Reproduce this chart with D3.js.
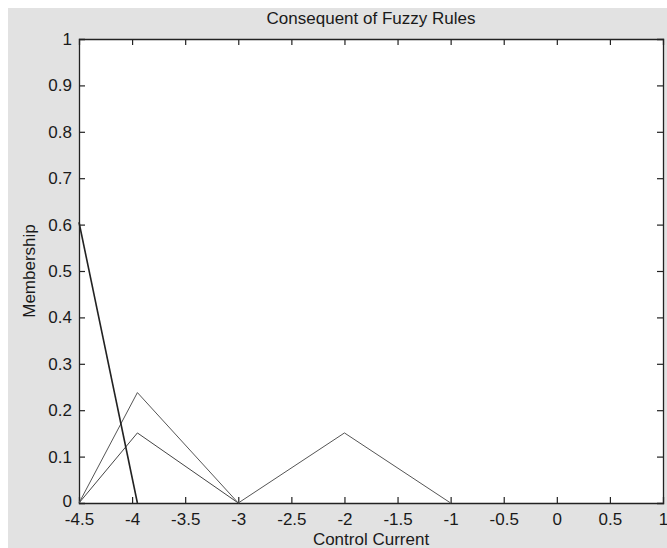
<!DOCTYPE html>
<html><head><meta charset="utf-8">
<script src="https://cdn.jsdelivr.net/npm/d3@7/dist/d3.min.js"></script>
<style>
html,body{margin:0;padding:0;background:#fff;}
svg{display:block;}
text{font-family:"Liberation Sans",Arial,Helvetica,sans-serif;fill:#1a1a1a;}
</style></head>
<body>
<svg id="chart" width="667" height="548"></svg>
<script>
// Data
const title = "Consequent of Fuzzy Rules";
const xLabel = "Control Current";
const yLabel = "Membership";
const xTicks = [-4.5, -4, -3.5, -3, -2.5, -2, -1.5, -1, -0.5, 0, 0.5, 1];
const xTickLabels = ["-4.5", "-4", "-3.5", "-3", "-2.5", "-2", "-1.5", "-1", "-0.5", "0", "0.5", "1"];
const yTicks = [0, 0.1, 0.2, 0.3, 0.4, 0.5, 0.6, 0.7, 0.8, 0.9, 1];
const yTickLabels = ["0", "0.1", "0.2", "0.3", "0.4", "0.5", "0.6", "0.7", "0.8", "0.9", "1"];
const steepX = [-4.5, -3.95];
const steepY = [0.605, 0];
const tri1X = [-4.5, -3.95, -3];
const tri1Y = [0, 0.238, 0];
const tri2X = [-4.5, -3.95, -3];
const tri2Y = [0, 0.151, 0];
const tri3X = [-3, -2, -1];
const tri3Y = [0, 0.151, 0];

const svg = d3.select("#chart");
svg.append("rect").attr("x",8).attr("y",8).attr("width",659).attr("height",540).attr("fill","#e2e2e2");

const L=79, R=663, T=39, B=503;
const x = d3.scaleLinear().domain([-4.5,1]).range([L,R]);
const y = d3.scaleLinear().domain([0,1]).range([B,T]);

svg.append("rect").attr("x",L).attr("y",T).attr("width",R-L).attr("height",B-T).attr("fill","#fff");

const fs = 17;
const gB = svg.append("g").attr("transform",`translate(0,${B})`)
  .call(d3.axisBottom(x).tickValues(xTicks).tickSize(-6).tickPadding(10)
    .tickFormat((d,i)=>xTickLabels[i]));
const gT = svg.append("g").attr("transform",`translate(0,${T})`)
  .call(d3.axisTop(x).tickValues(xTicks).tickSize(-6).tickFormat(""));
const gL = svg.append("g").attr("transform",`translate(${L},0)`)
  .call(d3.axisLeft(y).tickValues(yTicks).tickSize(-6).tickPadding(7)
    .tickFormat((d,i)=>yTickLabels[i]));
const gR = svg.append("g").attr("transform",`translate(${R},0)`)
  .call(d3.axisRight(y).tickValues(yTicks).tickSize(-6).tickFormat(""));
[gB,gT,gL,gR].forEach(g=>{
  g.select(".domain").attr("stroke","#222").attr("stroke-width",1.3);
  g.selectAll(".tick line").attr("stroke","#222").attr("stroke-width",1.2);
  g.selectAll("text").attr("font-size",fs).attr("fill","#1a1a1a")
    .style("font-family",'"Liberation Sans",Arial,sans-serif');
});
[gB,gT].forEach(g=>g.selectAll(".tick line").filter(d=>d===-4.5||d===1).remove());
[gL,gR].forEach(g=>g.selectAll(".tick line").filter(d=>d===0||d===1).remove());
// nudge the "0" y label slightly up, as in the reference
gL.selectAll(".tick text").filter(d=>d===0).attr("y",-2);

const line = d3.line().x(d=>x(d[0])).y(d=>y(d[1]));
function draw(xs, ys, color, w){
  svg.append("path").datum(xs.map((v,i)=>[v,ys[i]])).attr("d",line)
    .attr("fill","none").attr("stroke",color).attr("stroke-width",w);
}
draw(tri1X, tri1Y, "#555", 1);
draw(tri2X, tri2Y, "#444", 1);
draw(tri3X, tri3Y, "#555", 1);
draw(steepX, steepY, "#222", 1.6);

svg.append("text").attr("x",(L+R)/2).attr("y",24).attr("text-anchor","middle").attr("font-size",fs).text(title);
svg.append("text").attr("x",(L+R)/2).attr("y",545).attr("text-anchor","middle").attr("font-size",fs).text(xLabel);
svg.append("text").attr("transform",`translate(35,${(T+B)/2}) rotate(-90)`).attr("text-anchor","middle").attr("font-size",fs).text(yLabel);
</script>
</body></html>
